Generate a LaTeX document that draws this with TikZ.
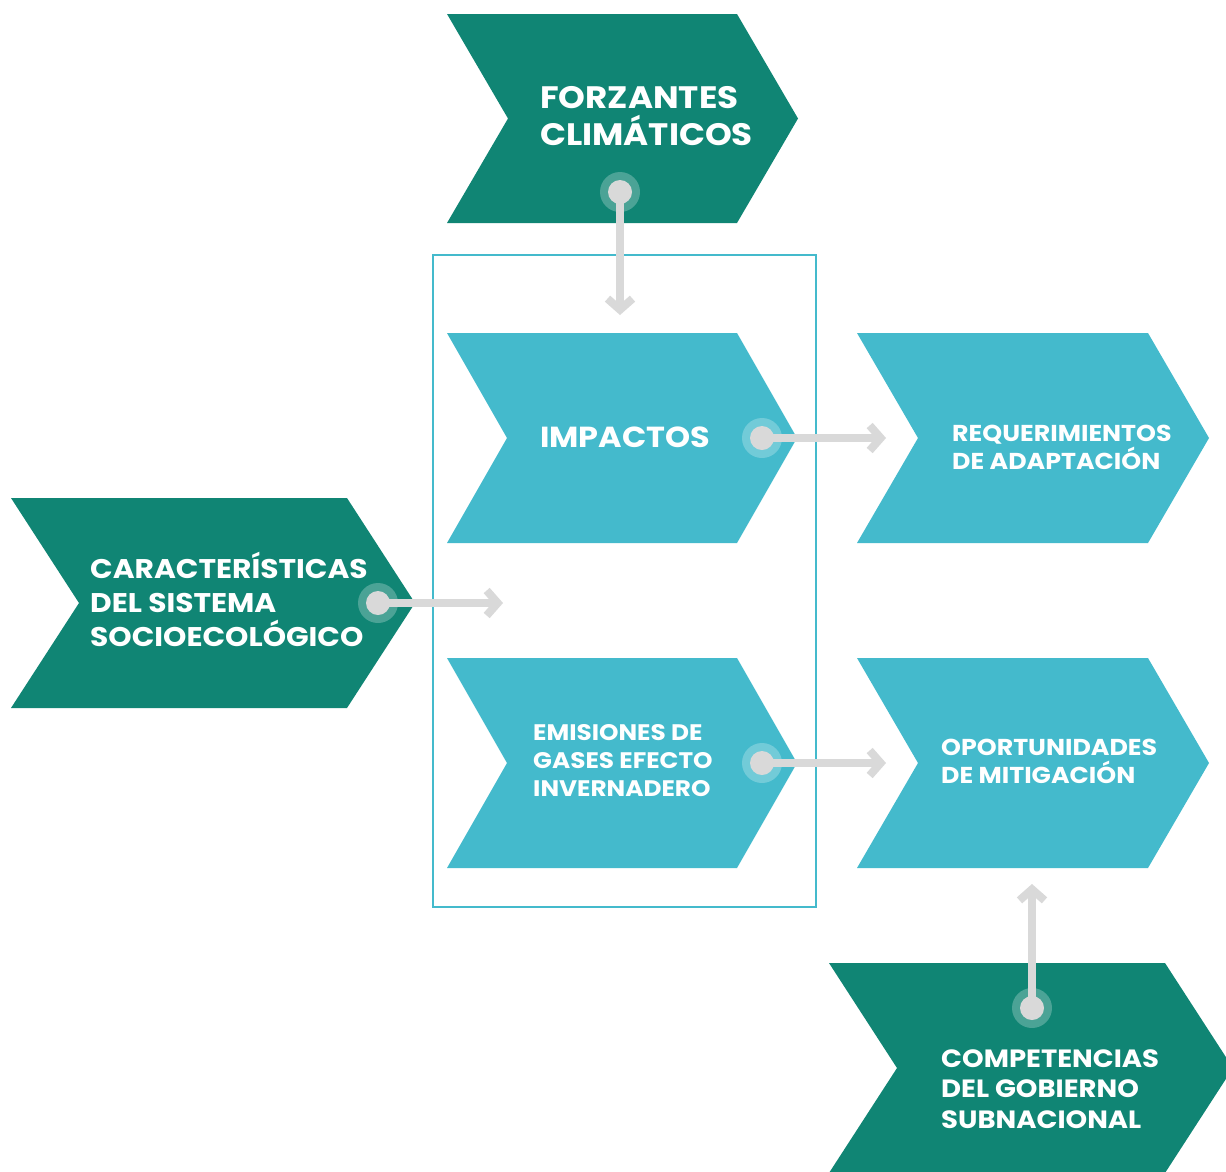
\documentclass[tikz,border=0pt]{standalone}
\usepackage{fontspec}
\setmainfont{Poppins}[FakeStretch=1.1]
\usetikzlibrary{arrows.meta}
\definecolor{dteal}{RGB}{16,133,116}
\definecolor{lcyan}{RGB}{68,186,204}
\definecolor{arrgray}{RGB}{217,217,217}
\newcommand\mychev[6]{\fill[#6] (#1,#2) -- (#3,#2) -- ({#3+#5},{(#2+#4)/2}) -- (#3,#4) -- (#1,#4) -- ({#1+#5},{(#2+#4)/2}) -- cycle;}
\tikzset{
  lbl/.style={text=white, font=\bfseries, align=left, inner sep=0pt, anchor=west},
  conn/.style={draw=arrgray, line width=8pt, -{Straight Barb[length=11pt,width=25pt]}},
  halo/.style={fill=white, fill opacity=0.25},
  dot/.style={fill=arrgray}
}
\begin{document}
\begin{tikzpicture}[x=1pt,y=-1pt]
\useasboundingbox (0,0) rectangle (1226,1171);
\clip (0,0) rectangle (1226,1171);
\fill[white] (0,0) rectangle (1226,1171);
% frame
\draw[lcyan, line width=2pt] (433,255) rectangle (816,907);
% chevrons
\mychev{447}{14}{737}{223}{61}{dteal}
\mychev{447}{333}{737}{543}{60}{lcyan}
\mychev{447}{658}{737}{868}{60}{lcyan}
\mychev{857}{333}{1148}{543}{61}{lcyan}
\mychev{857}{658}{1148}{868}{61}{lcyan}
\mychev{11}{498}{347}{708}{68}{dteal}
\mychev{829}{963}{1165}{1173}{68}{dteal}
% labels
\node[lbl, font=\bfseries\fontsize{31}{37}\selectfont] (forz) at (540,116) {FORZANTES\\CLIMÁTICOS};
\node[lbl, font=\bfseries\fontsize{29}{36}\selectfont] (imp) at (540,437) {IMPACTOS};
\node[lbl, font=\bfseries\fontsize{27}{34}\selectfont] (car) at (90,599) {CARACTERÍSTICAS\\DEL SISTEMA\\SOCIOECOLÓGICO};
\node[lbl, font=\bfseries\fontsize{22.5}{28}\selectfont] (emi) at (533,761) {EMISIONES DE\\GASES EFECTO\\INVERNADERO};
\node[lbl, font=\bfseries\fontsize{23}{28}\selectfont] (req) at (952,447) {REQUERIMIENTOS\\DE ADAPTACIÓN};
\node[lbl, font=\bfseries\fontsize{23}{28}\selectfont] (opo) at (941,761) {OPORTUNIDADES\\DE MITIGACIÓN};
\node[lbl, font=\bfseries\fontsize{25}{30.5}\selectfont] (comp) at (941,1089) {COMPETENCIAS\\DEL GOBIERNO\\SUBNACIONAL};
% connector points
\coordinate (dforz) at (620,192);  \coordinate (eforz) at (620,315);
\coordinate (dimp) at (762,438);   \coordinate (eimp) at (886,438);
\coordinate (dcar) at (378,603);   \coordinate (ecar) at (503,603);
\coordinate (demi) at (762,763);   \coordinate (eemi) at (886,763);
\coordinate (dcomp) at (1032,1008); \coordinate (ecomp) at (1032,884);
\foreach \d/\e in {dforz/eforz, dimp/eimp, dcar/ecar, demi/eemi, dcomp/ecomp}{
  \fill[halo] (\d) circle (20pt);
  \draw[conn] (\d) -- (\e);
  \fill[dot] (\d) circle (12pt);
}
\end{tikzpicture}
\end{document}
